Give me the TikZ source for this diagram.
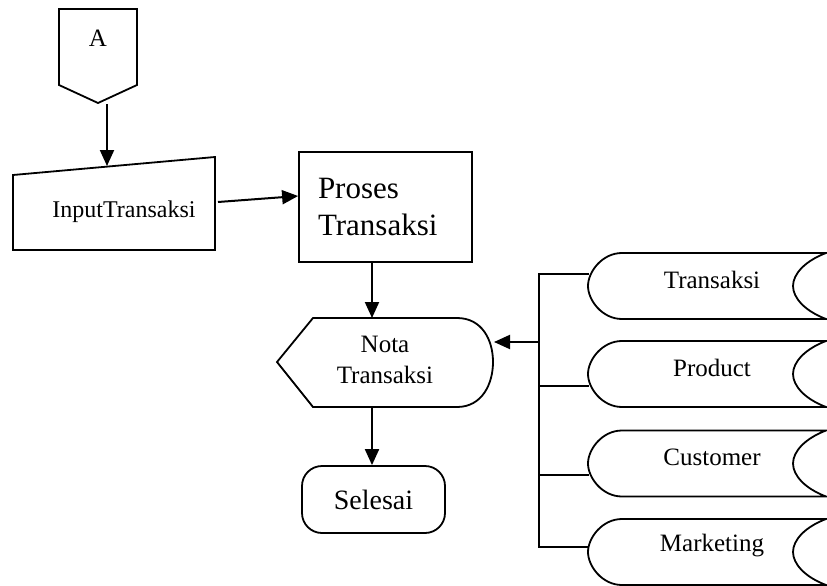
\documentclass[tikz,border=0pt]{standalone}
\usepackage{fontspec}
\setmainfont{Liberation Serif}
\usetikzlibrary{arrows.meta,calc,positioning}
\tikzset{
  garis/.style={
    line width=1.8pt,
    black
  },
  panah/.style={
    -{Triangle[length=16pt,width=14pt]},
    line width=2pt
  },
  teks/.style={
    align=center,
    inner sep=0pt,
    font=\fontsize{25}{31}\selectfont
  },
  proses/.style={
    draw,
    line width=1.8pt,
    minimum width=173pt,
    minimum height=110pt,
    text width=135pt,
    inner xsep=19pt,
    align=left,
    font=\fontsize{31}{37}\selectfont
  },
  terminal/.style={
    draw,
    line width=1.8pt,
    rounded corners=20pt,
    minimum width=143pt,
    minimum height=67pt,
    font=\fontsize{28}{32}\selectfont
  },
  store/.pic={
    \draw[garis] (-85,-33) -- (119,-33)
      .. controls (98,-25) and (86,-12) .. (86,0)
      .. controls (86,12) and (98,25) .. (119,33)
      -- (-85,33)
      .. controls (-105,33) and (-119,14) .. (-119,0)
      .. controls (-119,-14) and (-105,-33) .. cycle;
    \coordinate (-in) at (-118,0);
    \node[teks] (-txt) at (5,-6) {#1};
  }
}

\begin{document}
\begin{tikzpicture}[x=1pt,y=-1pt]
\useasboundingbox (0,0) rectangle (827,586);
\clip (0,0) rectangle (827,586);

% konektor A
\draw[garis] (59,9) -- (137,9) -- (137,85) -- (98,103) -- (59,85) -- cycle;
\node[teks] (A) at (98,38.5) {A};
\coordinate (A-out) at (107,104);

% input manual
\draw[garis] (13,175) -- (215,157) -- (215,250) -- (13,250) -- cycle;
\node[teks,font=\fontsize{24}{28}\selectfont] (input) at (124,212) {InputTransaksi};
\coordinate (input-top) at (107,166);
\coordinate (input-out) at (218,202);

% proses
\node[proses] (proses) at (385.5,207) {Proses\\Transaksi};

% display nota
\draw[garis] (277,362) -- (313,318) -- (457,318)
  .. controls (482,318) and (493,340) .. (493,362)
  .. controls (493,384) and (482,407) .. (457,407)
  -- (313,407) -- cycle;
\node[teks] (nota) at (385,360) {Nota\\Transaksi};
\coordinate (nota-top) at (372,318);
\coordinate (nota-bottom) at (372,407);
\coordinate (nota-right) at (494,342);

% selesai
\node[terminal] (selesai) at (373.5,499.5) {Selesai};

% data store
\pic (trx) at (707,286) {store=Transaksi};
\pic (prd) at (707,374) {store=Product};
\pic (cst) at (707,463.5) {store=Customer};
\pic (mkt) at (707,552) {store=Marketing};

\coordinate (bus-top) at (539,274);
\coordinate (bus-nota) at (539,342);
\coordinate (bus-prd) at (539,386);
\coordinate (bus-cst) at (539,475);
\coordinate (bus-bottom) at (539,547);

\draw[garis,line width=1.5pt] (trx-in |- bus-top) -- (bus-top) -- (bus-bottom) -- (mkt-in |- bus-bottom);
\draw[garis,line width=1.5pt] (bus-prd) -- (prd-in |- bus-prd);
\draw[garis,line width=1.5pt] (bus-cst) -- (cst-in |- bus-cst);

% panah
\draw[panah] (A-out) -- (input-top);
\draw[panah] (input-out) -- ($(proses.west)+(0,-11)$);
\draw[panah] (proses.south -| nota-top) -- (nota-top);
\draw[panah] (nota-bottom) -- (selesai.north -| nota-bottom);
\draw[panah] (bus-nota) -- (nota-right);
\end{tikzpicture}
\end{document}
